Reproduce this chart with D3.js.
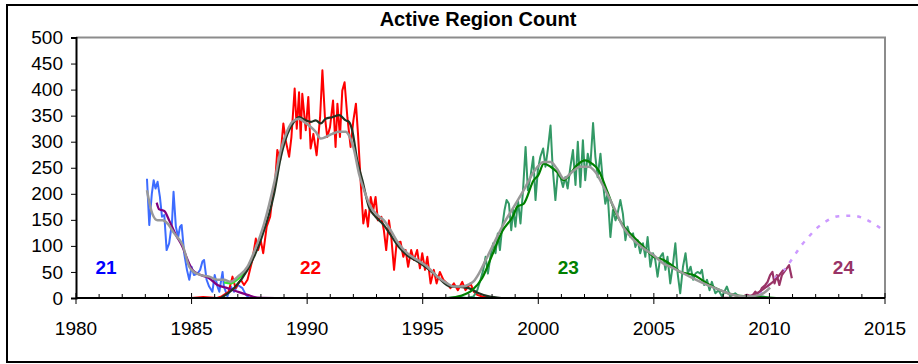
<!DOCTYPE html>
<html>
<head>
<meta charset="utf-8">
<script src="https://cdn.jsdelivr.net/npm/d3@7"></script>
<style>
  body { margin: 0; background: #fff; }
  svg { display: block; font-family: "Liberation Sans", Arial, sans-serif; }
</style>
</head>
<body>
<svg id="chart" width="918" height="364"></svg>
<script>
// active region counts, as [year, count]
const c21Monthly = [[1983.07,229],[1983.17,140],[1983.28,200],[1983.36,226],[1983.44,210],[1983.53,223],[1983.63,194],[1983.72,156],[1983.82,159],[1983.92,92],[1984.03,105],[1984.15,143],[1984.22,204],[1984.32,137],[1984.42,117],[1984.5,137],[1984.57,140],[1984.68,86],[1984.8,54],[1984.9,35],[1985.0,60],[1985.1,44],[1985.26,47],[1985.37,54],[1985.47,70],[1985.54,73],[1985.65,35],[1985.76,22],[1985.9,12],[1986.0,44],[1986.12,22],[1986.2,12],[1986.34,50],[1986.4,22],[1986.55,3],[1986.7,22],[1986.84,12],[1987.0,25],[1987.2,19],[1987.35,6],[1987.5,0],[1988.0,0]];

const c21Smooth = [[1983.49,183],[1983.6,170],[1983.82,167],[1984.03,149],[1984.32,121],[1984.61,98],[1984.83,73],[1985.04,54],[1985.4,44],[1985.76,38],[1986.12,25],[1986.55,19],[1987.0,12],[1987.42,6],[1987.85,1],[1989.0,0]];

const c22Monthly = [[1985.0,0],[1985.5,2],[1986.1,0],[1986.3,3],[1986.6,12],[1986.77,41],[1986.9,19],[1987.13,35],[1987.27,25],[1987.42,35],[1987.63,73],[1987.78,114],[1987.88,92],[1987.99,111],[1988.1,86],[1988.25,137],[1988.4,156],[1988.5,194],[1988.6,213],[1988.71,284],[1988.83,264],[1988.97,335],[1989.07,303],[1989.22,271],[1989.32,309],[1989.46,402],[1989.55,325],[1989.65,395],[1989.72,306],[1989.79,392],[1989.94,322],[1990.05,386],[1990.15,287],[1990.27,315],[1990.41,274],[1990.56,347],[1990.66,437],[1990.77,347],[1990.87,309],[1990.99,328],[1991.12,379],[1991.23,290],[1991.31,373],[1991.42,309],[1991.52,398],[1991.62,414],[1991.74,347],[1991.88,290],[1992.0,341],[1992.11,373],[1992.2,315],[1992.32,220],[1992.43,143],[1992.53,169],[1992.63,137],[1992.75,194],[1992.86,169],[1992.96,194],[1993.06,149],[1993.21,156],[1993.32,130],[1993.42,92],[1993.54,149],[1993.64,117],[1993.76,54],[1993.87,105],[1994.04,108],[1994.16,79],[1994.26,92],[1994.37,60],[1994.5,92],[1994.62,73],[1994.76,92],[1994.88,57],[1994.98,86],[1995.1,54],[1995.2,79],[1995.34,28],[1995.48,54],[1995.6,28],[1995.74,50],[1995.89,35],[1996.06,28],[1996.2,19],[1996.35,28],[1996.52,15],[1996.71,31],[1996.85,15],[1997.07,28],[1997.21,12],[1997.36,6],[1997.57,3],[1998.15,0]];

const c22Smooth = [[1986.27,0],[1986.84,19],[1987.42,54],[1987.99,111],[1988.57,200],[1988.86,270],[1989.15,315],[1989.43,338],[1989.65,347],[1989.94,341],[1990.16,338],[1990.37,341],[1990.59,335],[1990.8,344],[1991.09,347],[1991.38,351],[1991.67,341],[1991.81,338],[1991.95,322],[1992.17,264],[1992.39,226],[1992.67,175],[1992.96,156],[1993.32,140],[1993.61,121],[1993.97,98],[1994.33,82],[1994.77,70],[1995.2,57],[1995.63,41],[1996.2,22],[1996.42,22],[1996.99,19],[1997.43,9],[1997.86,3],[1998.4,0]];

const c23Monthly = [[1996.0,0],[1996.6,2],[1996.9,0],[1997.2,3],[1997.36,15],[1997.5,35],[1997.62,54],[1997.72,79],[1997.82,47],[1997.93,79],[1998.05,105],[1998.15,86],[1998.25,124],[1998.34,92],[1998.44,137],[1998.54,169],[1998.63,188],[1998.73,181],[1998.83,130],[1998.92,169],[1999.01,137],[1999.12,188],[1999.23,143],[1999.34,207],[1999.45,290],[1999.55,207],[1999.66,232],[1999.78,271],[1999.88,188],[1999.98,245],[2000.09,271],[2000.21,287],[2000.31,252],[2000.41,284],[2000.53,331],[2000.62,252],[2000.74,188],[2000.84,239],[2000.96,232],[2001.07,213],[2001.17,232],[2001.27,210],[2001.39,252],[2001.5,284],[2001.61,217],[2001.71,300],[2001.82,213],[2001.93,303],[2002.03,226],[2002.14,277],[2002.25,252],[2002.37,336],[2002.47,271],[2002.57,232],[2002.69,277],[2002.8,220],[2002.9,181],[2003.0,200],[2003.12,117],[2003.23,169],[2003.34,149],[2003.43,162],[2003.55,188],[2003.66,162],[2003.77,111],[2003.86,137],[2003.98,117],[2004.1,124],[2004.2,98],[2004.3,111],[2004.41,86],[2004.53,105],[2004.63,79],[2004.73,117],[2004.85,60],[2004.96,86],[2005.06,73],[2005.16,41],[2005.28,79],[2005.39,86],[2005.5,54],[2005.59,79],[2005.71,28],[2005.83,66],[2005.93,105],[2006.03,47],[2006.14,9],[2006.26,60],[2006.37,86],[2006.47,47],[2006.59,60],[2006.7,35],[2006.8,47],[2006.89,50],[2007.0,47],[2007.08,54],[2007.18,25],[2007.3,35],[2007.41,15],[2007.51,31],[2007.66,9],[2007.8,15],[2007.95,3],[2008.16,22],[2008.3,3],[2008.52,9],[2008.74,1],[2009.03,4],[2009.31,1],[2009.6,4],[2010.0,0]];

const c23Smooth = [[1996.13,0],[1996.64,4],[1997.14,15],[1997.57,38],[1998.0,82],[1998.44,128],[1998.94,160],[1999.08,175],[1999.37,181],[1999.8,226],[2000.0,236],[2000.24,258],[2000.53,252],[2000.81,242],[2001.1,226],[2001.39,239],[2001.68,255],[2002.03,264],[2002.32,258],[2002.61,245],[2002.98,205],[2003.34,164],[2003.7,137],[2004.13,117],[2004.56,98],[2004.99,79],[2005.42,73],[2005.86,60],[2006.14,50],[2006.43,47],[2006.72,44],[2007.3,28],[2007.87,15],[2008.45,6],[2009.03,3],[2010.3,0]];

const c24Monthly = [[2007.58,0],[2008.74,1],[2009.03,6],[2009.24,3],[2009.39,12],[2009.53,6],[2009.67,19],[2009.82,25],[2009.92,31],[2010.03,44],[2010.13,50],[2010.22,28],[2010.32,44],[2010.43,25],[2010.54,44],[2010.64,50],[2010.75,57],[2010.85,63],[2010.97,38]];

const c24Smooth = [[2008.5,0],[2009.0,2],[2009.46,9],[2009.89,22],[2010.32,38],[2010.6,54]];

// smoothed total of all cycles
const totalSmooth = [[1983.07,207],[1983.3,162],[1983.53,149],[1983.75,149],[1983.96,143],[1984.25,124],[1984.61,102],[1984.9,60],[1985.1,50],[1985.4,44],[1985.76,41],[1986.12,35],[1986.4,35],[1986.7,31],[1987.0,41],[1987.42,60],[1987.7,88],[1988.14,143],[1988.57,220],[1988.86,284],[1989.15,322],[1989.36,338],[1989.65,344],[1989.87,338],[1990.08,331],[1990.37,319],[1990.59,306],[1990.8,309],[1991.09,315],[1991.38,319],[1991.67,319],[1991.81,312],[1992.03,284],[1992.24,239],[1992.46,207],[1992.75,175],[1993.04,159],[1993.32,149],[1993.61,130],[1993.9,108],[1994.33,86],[1994.77,73],[1995.2,60],[1995.63,41],[1996.06,28],[1996.35,22],[1996.71,22],[1997.0,26],[1997.2,32],[1997.43,47],[1997.65,66],[1998.08,105],[1998.51,143],[1998.94,175],[1999.37,207],[1999.8,242],[2000.24,261],[2000.53,261],[2000.81,248],[2001.1,229],[2001.46,242],[2001.82,252],[2002.18,252],[2002.47,242],[2002.83,213],[2003.26,175],[2003.7,134],[2004.13,111],[2004.56,95],[2004.99,82],[2005.42,66],[2005.86,57],[2006.29,47],[2006.72,37],[2007.3,25],[2007.87,15],[2008.45,6],[2009.03,3],[2009.6,6],[2010.03,20]];

// sum of overlapping smoothed cycles at the 21/22 minimum
const minimumSum = [[1986.4,30],[1986.7,28],[1987.0,36],[1987.3,50],[1987.56,66]];

// cycle 24 prediction
const c24Predicted = [[2009.1,0],[2009.6,9],[2010.18,35],[2010.75,60],[2011.04,79],[2011.4,102],[2011.69,117],[2012.05,134],[2012.48,148],[2012.99,157],[2013.56,158],[2014.07,153],[2014.5,143],[2015.0,127]];

const cycleLabels = ["21", "22", "23", "24"];
const cycleLabelAt = [[1981.3, 60], [1990.15, 60], [2001.3, 60], [2013.2, 60]];
const cycleLabelColors = ["#0000ff", "#ff0000", "#008000", "#993366"];

const yTicks = [0, 50, 100, 150, 200, 250, 300, 350, 400, 450, 500];
const xTicks = [1980, 1985, 1990, 1995, 2000, 2005, 2010, 2015];

const svg = d3.select("#chart");

const x = d3.scaleLinear().domain([1980, 2015]).range([76, 885]);
const y = d3.scaleLinear().domain([0, 500]).range([298, 37.5]);

// outer frame
svg.append("rect")
	.attr("x", 7).attr("y", 5)
	.attr("width", 920).attr("height", 357)
	.attr("fill", "none").attr("stroke", "#000").attr("stroke-width", 2);

// plot area border (top and right are grey)
svg.append("path")
	.attr("d", `M${x(1980)},${y(500)}H${x(2015)}V${y(0)}`)
	.attr("fill", "none").attr("stroke", "#8c8c8c").attr("stroke-width", 2);

svg.append("text")
	.attr("x", 478).attr("y", 26)
	.attr("text-anchor", "middle")
	.attr("font-size", 20).attr("font-weight", "bold")
	.text("Active Region Count");

const line = d3.line().x((d) => x(d[0])).y((d) => y(d[1]));
const smooth = d3.line().x((d) => x(d[0])).y((d) => y(d[1])).curve(d3.curveMonotoneX);

function draw(data, gen, color, w, dash) {
	const p = svg.append("path")
		.datum(data)
		.attr("d", gen)
		.attr("fill", "none")
		.attr("stroke", color)
		.attr("stroke-width", w)
		.attr("stroke-linejoin", "round");
	if (dash) p.attr("stroke-dasharray", dash);
	return p;
}

// monthly counts
draw(c21Monthly, line, "#3d6cff", 2);
draw(c22Monthly, line, "#ff0000", 2);
draw(c23Monthly, line, "#339966", 2);
draw(c24Monthly, line, "#993366", 2.2);

// prediction
draw(c24Predicted, smooth, "#cc99ff", 2.5, "4,7");

// smoothed values
draw(c21Smooth, smooth, "#800080", 2.2);
draw(minimumSum, smooth, "#33e633", 2.2);
draw(c22Smooth, smooth, "#223322", 2.2);
draw(c23Smooth, smooth, "#008000", 2.2);
draw(c24Smooth, smooth, "#993366", 2.2);
draw(totalSmooth, smooth, "#999999", 2.5);

// axes
const yAxis = svg.append("g").attr("transform", `translate(${x(1980)},0)`)
	.call(d3.axisLeft(y).tickValues(yTicks).tickSize(5).tickPadding(8));
yAxis.selectAll("text").attr("font-size", 19).attr("fill", "#000").attr("font-family", "Liberation Sans, Arial, sans-serif");

const xMinor = d3.range(1980, 2016);
svg.append("g").selectAll("line").data(xMinor).join("line")
	.attr("x1", (d) => x(d)).attr("x2", (d) => x(d))
	.attr("y1", (d) => d % 5 === 0 ? y(0) - 5 : y(0) - 4)
	.attr("y2", (d) => d % 5 === 0 ? y(0) + 6 : y(0))
	.attr("stroke", "#000").attr("stroke-width", 1);

svg.append("line")
	.attr("x1", x(1980)).attr("x2", x(2015))
	.attr("y1", y(0)).attr("y2", y(0))
	.attr("stroke", "#000").attr("stroke-width", 2);
yAxis.select(".domain").attr("stroke-width", 2);

svg.append("g").selectAll("text").data(xTicks).join("text")
	.attr("x", (d) => x(d)).attr("y", 335)
	.attr("text-anchor", "middle")
	.attr("font-size", 19)
	.text((d) => d);

svg.append("g").selectAll("text").data(cycleLabels).join("text")
	.attr("x", (d, i) => x(cycleLabelAt[i][0]))
	.attr("y", (d, i) => y(cycleLabelAt[i][1]) + 7)
	.attr("text-anchor", "middle")
	.attr("font-size", 19).attr("font-weight", "bold")
	.attr("fill", (d, i) => cycleLabelColors[i])
	.text((d) => d);
</script>
</body>
</html>
